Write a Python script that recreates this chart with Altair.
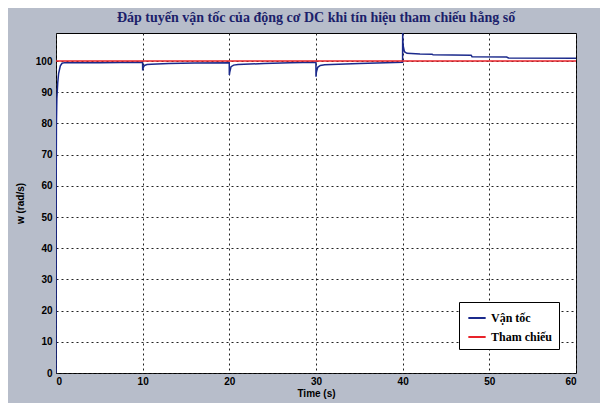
import altair as alt
import pandas as pd

# Speed response (Vận tốc)
t_speed = [0, 0.02, 0.05, 0.1, 0.2, 0.3, 0.5, 0.7, 1.0, 2, 5, 9.99,
           10, 10.05, 10.2, 10.5, 11, 13, 16, 19.99,
           20, 20.05, 20.2, 20.5, 21, 24, 27, 29.99,
           30, 30.05, 30.2, 30.5, 31, 35, 39.99,
           40, 40.05, 40.2, 40.5, 42, 43.4, 43.5, 47.9, 48, 52, 52.2, 60]
w_speed = [0, 60, 80, 88, 93, 96, 98.5, 99.3, 99.5, 99.5, 99.5, 99.6,
           97, 97.8, 98.6, 98.9, 99.0, 99.2, 99.4, 99.5,
           95.5, 96.5, 98.2, 98.7, 98.9, 99.2, 99.5, 99.6,
           95, 96.5, 98.0, 98.6, 98.8, 99.2, 99.6,
           109, 105, 103, 102.5, 102.3, 102.2, 102.0, 101.9, 101.4, 101.3, 101.0, 100.9]

# Reference (Tham chiếu)
t_ref = [0, 60]
w_ref = [100, 100]

series_names = ["Vận tốc", "Tham chiếu"]
series_colors = ["#1b2a8c", "#e8232a"]

x_ticks = [0, 10, 20, 30, 40, 50, 60]
y_ticks = [0, 10, 20, 30, 40, 50, 60, 70, 80, 90, 100]

df = pd.concat([
    pd.DataFrame({"t": t_speed, "w": w_speed, "s": series_names[0], "o": 0}),
    pd.DataFrame({"t": t_ref, "w": w_ref, "s": series_names[1], "o": 1}),
])

chart = alt.Chart(df).mark_line(strokeWidth=1.5, clip=True).encode(
    x=alt.X("t:Q", scale=alt.Scale(domain=[0, 60], nice=False),
            axis=alt.Axis(title="Time (s)", values=x_ticks, format="d")),
    y=alt.Y("w:Q", scale=alt.Scale(domain=[0, 109], nice=False),
            axis=alt.Axis(title="w (rad/s)", values=y_ticks, format="d")),
    color=alt.Color("s:N", scale=alt.Scale(domain=series_names, range=series_colors),
                    legend=alt.Legend(title=None, orient="none", legendX=403, legendY=269,
                                      symbolType="stroke", symbolStrokeWidth=2, symbolSize=300,
                                      labelFont="Liberation Serif", labelFontWeight="bold",
                                      labelFontSize=12, labelColor="black",
                                      fillColor="white", strokeColor="black",
                                      padding=6, rowPadding=3, symbolOffset=2)),
    detail="o:N",
    order="t:Q",
).properties(
    width=520, height=340,
    title=alt.Title("Đáp tuyến vận tốc của động cơ DC khi tín hiệu tham chiếu hằng số",
                    font="Liberation Serif", fontSize=14, fontWeight="bold",
                    color="#1c1f6b", anchor="middle", offset=8),
    autosize=alt.AutoSizeParams(type="none"),
    padding={"left": 48, "top": 25, "right": 24, "bottom": 30},
    background="#b7bdca",
).configure_view(
    fill="white", stroke="black", strokeWidth=1
).configure_axis(
    grid=True, gridColor="#222222", gridDash=[2, 3], gridOpacity=1, gridWidth=1,
    domain=False, ticks=False,
    labelFont="Liberation Sans", labelFontWeight="bold", labelFontSize=10, labelColor="black",
    titleFont="Liberation Sans", titleFontWeight="bold", titleFontSize=10, titleColor="black",
).configure_axisX(labelPadding=3, titlePadding=2).configure_axisY(labelPadding=4, titlePadding=10)

chart.save("out.html", embed_options={"renderer": "svg", "actions": False})
